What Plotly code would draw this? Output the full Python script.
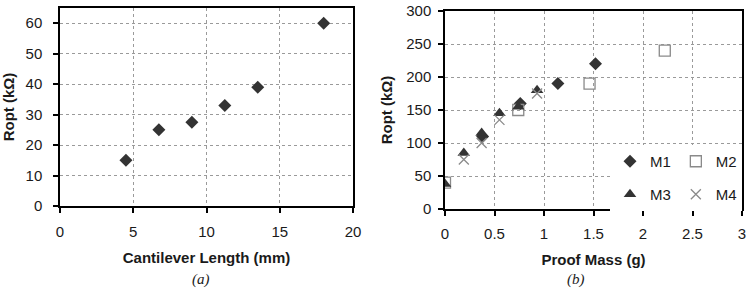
import plotly.graph_objects as go

# Left panel data
len_x = [4.5, 6.75, 9.0, 11.25, 13.5, 18.0]
len_y = [15, 25, 27.5, 33, 39, 60]

# Right panel data
m1_x = [0.38, 0.76, 1.14, 1.52]
m1_y = [110, 160, 190, 220]
m2_x = [0.0, 0.74, 1.46, 2.22]
m2_y = [40, 150, 190, 240]
m3_x = [0.0, 0.19, 0.37, 0.55, 0.74, 0.93]
m3_y = [38, 85, 115, 145, 155, 180]
m4_x = [0.19, 0.37, 0.55, 0.93]
m4_y = [75, 100, 135, 175]

W, H = 750, 290
FONT = "Liberation Sans, Arial, sans-serif"
DARK = "#333333"
GRAY = "#8a8a8a"
TXT = "#1a1a1a"

def px_x(p):
    return p / W

def px_y(p):
    return 1 - p / H

fig = go.Figure()

fig.add_trace(go.Scatter(x=len_x, y=len_y, mode="markers", showlegend=False,
                         marker=dict(symbol="diamond", size=10, color=DARK),
                         xaxis="x", yaxis="y"))

fig.add_trace(go.Scatter(x=m1_x, y=m1_y, mode="markers", name="M1", legend="legend",
                         marker=dict(symbol="diamond", size=10, color=DARK),
                         xaxis="x2", yaxis="y2"))
fig.add_trace(go.Scatter(x=m2_x, y=m2_y, mode="markers", name="M2", legend="legend",
                         marker=dict(symbol="square-open", size=11, color=GRAY, line=dict(width=1.3)),
                         xaxis="x2", yaxis="y2"))
fig.add_trace(go.Scatter(x=m3_x, y=m3_y, mode="markers", name="M3", legend="legend2",
                         marker=dict(symbol="triangle-up", size=11, color=DARK),
                         xaxis="x2", yaxis="y2"))
fig.add_trace(go.Scatter(x=m4_x, y=m4_y, mode="markers", name="M4", legend="legend2",
                         marker=dict(symbol="x-thin-open", size=10, color=GRAY, line=dict(width=1.3, color=GRAY)),
                         xaxis="x2", yaxis="y2"))

axis_common = dict(showline=True, linecolor="black", linewidth=1.5, mirror=True,
                   ticks="outside", ticklen=5, tickcolor="black", tickwidth=1.5,
                   showgrid=True, gridcolor="#9a9a9a", griddash="dot", gridwidth=1,
                   zeroline=False, automargin=False,
                   tickfont=dict(family=FONT, size=15, color=TXT),
                   title_font=dict(family=FONT, size=15, color=TXT))

fig.update_layout(
    width=W, height=H,
    margin=dict(l=0, r=0, t=0, b=0, autoexpand=False),
    paper_bgcolor="white", plot_bgcolor="white",
    font=dict(family=FONT, size=15, color=TXT),
    xaxis=dict(domain=[px_x(60), px_x(353)], range=[0, 20], dtick=5, anchor="y",
               ticklabelstandoff=6,
               title=dict(text="<b>Cantilever Length (mm)</b>", standoff=14), **axis_common),
    yaxis=dict(domain=[px_y(206), px_y(8)], range=[0, 65], tick0=0, dtick=10, anchor="x",
               ticklabelstandoff=8,
               title=dict(text="<b>Ropt (kΩ)</b>", standoff=10), **axis_common),
    xaxis2=dict(domain=[px_x(445), px_x(742)], range=[0, 3], dtick=0.5, anchor="y2",
                ticklabelstandoff=5,
                title=dict(text="<b>Proof Mass (g)</b>", standoff=14), **axis_common),
    yaxis2=dict(domain=[px_y(209), px_y(11)], range=[0, 300], dtick=50, anchor="x2",
                ticklabelstandoff=4,
                title=dict(text="<b>Ropt (kΩ)</b>", standoff=10), **axis_common),
    legend=dict(orientation="h", x=px_x(742), xanchor="right", y=px_y(178), yanchor="bottom",
                bgcolor="white", borderwidth=0, itemwidth=30,
                font=dict(family=FONT, size=15, color=TXT)),
    legend2=dict(orientation="h", x=px_x(742), xanchor="right", y=px_y(178), yanchor="top",
                 bgcolor="white", borderwidth=0, itemwidth=30,
                 font=dict(family=FONT, size=15, color=TXT)),
    annotations=[
        dict(text="<i>(a)</i>", x=px_x(201), y=px_y(279), xref="paper", yref="paper",
             xanchor="center", yanchor="middle",
             showarrow=False, font=dict(family="Liberation Serif, Times New Roman, serif", size=15, color=TXT)),
        dict(text="<i>(b)</i>", x=px_x(576), y=px_y(279), xref="paper", yref="paper",
             xanchor="center", yanchor="middle",
             showarrow=False, font=dict(family="Liberation Serif, Times New Roman, serif", size=15, color=TXT)),
    ],
)

fig.write_html("out.html")
